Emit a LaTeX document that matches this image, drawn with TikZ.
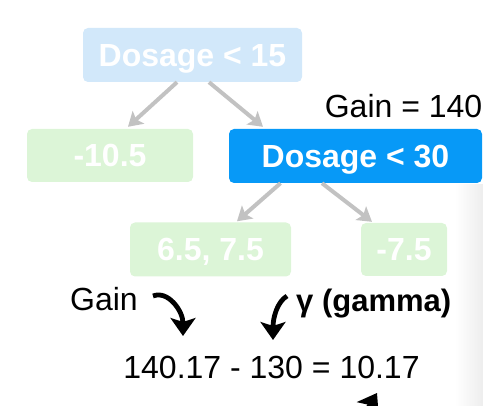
\documentclass[tikz,border=0pt]{standalone}
\usepackage{fontspec}
\setmainfont{Liberation Sans}
\usetikzlibrary{arrows.meta}

\definecolor{leafgreen}{HTML}{DCF5D7}
\definecolor{rootblue}{HTML}{D2E8FA}
\definecolor{splitblue}{HTML}{0799F7}
\definecolor{edgegray}{HTML}{C2C2C2}

\tikzset{
  treebox/.style={rectangle, rounded corners=5pt, text=white, inner sep=0pt,
    font=\fontsize{32}{32}\selectfont\bfseries, text height=22.5pt, text depth=0pt},
  caption/.style={inner sep=0pt, font=\fontsize{32}{32}\selectfont,
    text height=22.5pt, text depth=0pt},
  treeedge/.style={edgegray, line width=4pt, -{Stealth[length=14pt,width=17pt,inset=3pt]}},
  bigarrow/.style={black, line width=4.8pt, -{Stealth[length=18pt,width=25pt,inset=4pt]}}
}

\begin{document}
\begin{tikzpicture}[x=1pt,y=-1pt]
\useasboundingbox (0,0) rectangle (483,406);
\clip (0,0) rectangle (483,406);
\shade[left color=white,right color=black!7] (455,185) rectangle (483,406);

% the tree
\node[treebox, fill=rootblue, minimum width=219pt, minimum height=54pt] (d15) at (192.5,55) {Dosage < 15};
\node[treebox, fill=leafgreen, minimum width=166pt, minimum height=53pt] (l105) at (110,155.5) {-10.5};
\node[treebox, fill=splitblue, minimum width=253pt, minimum height=54pt] (d30) at (355.5,156) {Dosage < 30};
\node[treebox, fill=leafgreen, minimum width=161pt, minimum height=54pt] (l65) at (210.5,249.5) {6.5, 7.5};
\node[treebox, fill=leafgreen, minimum width=86pt, minimum height=53pt] (l75) at (404,249.5) {-7.5};

\draw[treeedge] ([xshift=-15.5pt]d15.south) -- ([xshift=18pt,yshift=2pt]l105.north);
\draw[treeedge] ([xshift=16.5pt]d15.south) -- ([xshift=-92.5pt,yshift=2pt]d30.north);
\draw[treeedge] ([xshift=-75pt]d30.south) -- ([xshift=26.5pt,yshift=1pt]l65.north);
\draw[treeedge] ([xshift=-33.5pt]d30.south) -- ([xshift=-32pt,yshift=1pt]l75.north);

\node[caption, anchor=east] (gaintop) at (482.5,106) {Gain = 140};

% gain minus gamma
\node[caption] (gain) at (104,299.5) {Gain};
\node[caption, font=\fontsize{31}{31}\selectfont\bfseries, anchor=west] (gamma) at (296,300) {γ (gamma)};
\node[caption] (eq) at (271.5,367) {140.17 - 130 = 10.17};

\coordinate (gainhead) at (183,336);
\coordinate (gammahead) at (273,340);
\coordinate (eqtail) at (355,430);
\coordinate (eqhead) at (377,393);

\draw[bigarrow] ([xshift=15pt,yshift=3.5pt]gain.east) .. controls +(15,-6) and +(0,-25) .. (gainhead);
\draw[bigarrow] ([xshift=-9pt,yshift=4pt]gamma.west) .. controls +(-10,6) and +(0,-22) .. (gammahead);
\draw[bigarrow] (eqtail) -- (eqhead);
\end{tikzpicture}
\end{document}
